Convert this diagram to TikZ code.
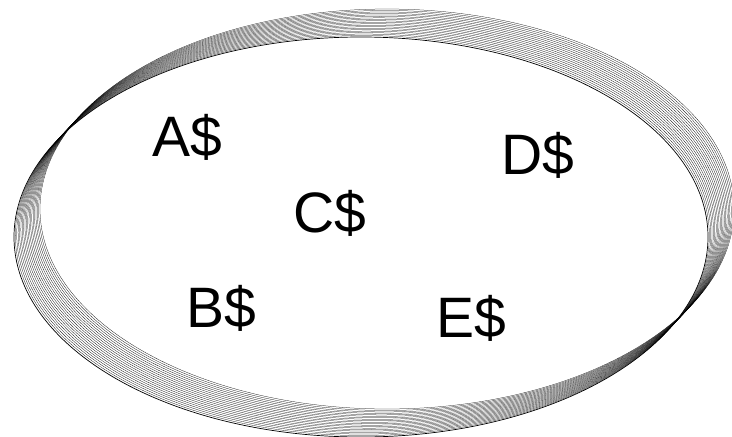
\documentclass[tikz,border=0pt]{standalone}
\usepackage{fontspec}
\setmainfont{Liberation Sans}
\begin{document}
\begin{tikzpicture}[x=1pt, y=-1pt,
    every node/.style={anchor=base, inner sep=0pt, font=\fontsize{57}{62}\selectfont},
    ring/.style={draw=black, line width=0.25pt}]
    \useasboundingbox (0,0) rectangle (732,437);

    % Anello di ellissi
    \foreach \i in {1,...,19}
        \draw[ring] (361+\i*26/19, 237-\i*28/19) ellipse [x radius=347, y radius=200];
    \draw[black, line width=0.7pt] (361,237) ellipse [x radius=347, y radius=200];

    % Etichette
    \node (A) at (187,156) {A\$};
    \node (C) at (330,232) {C\$};
    \node (D) at (538,174) {D\$};
    \node (B) at (221,327) {B\$};
    \node (E) at (471,337) {E\$};
\end{tikzpicture}
\end{document}
